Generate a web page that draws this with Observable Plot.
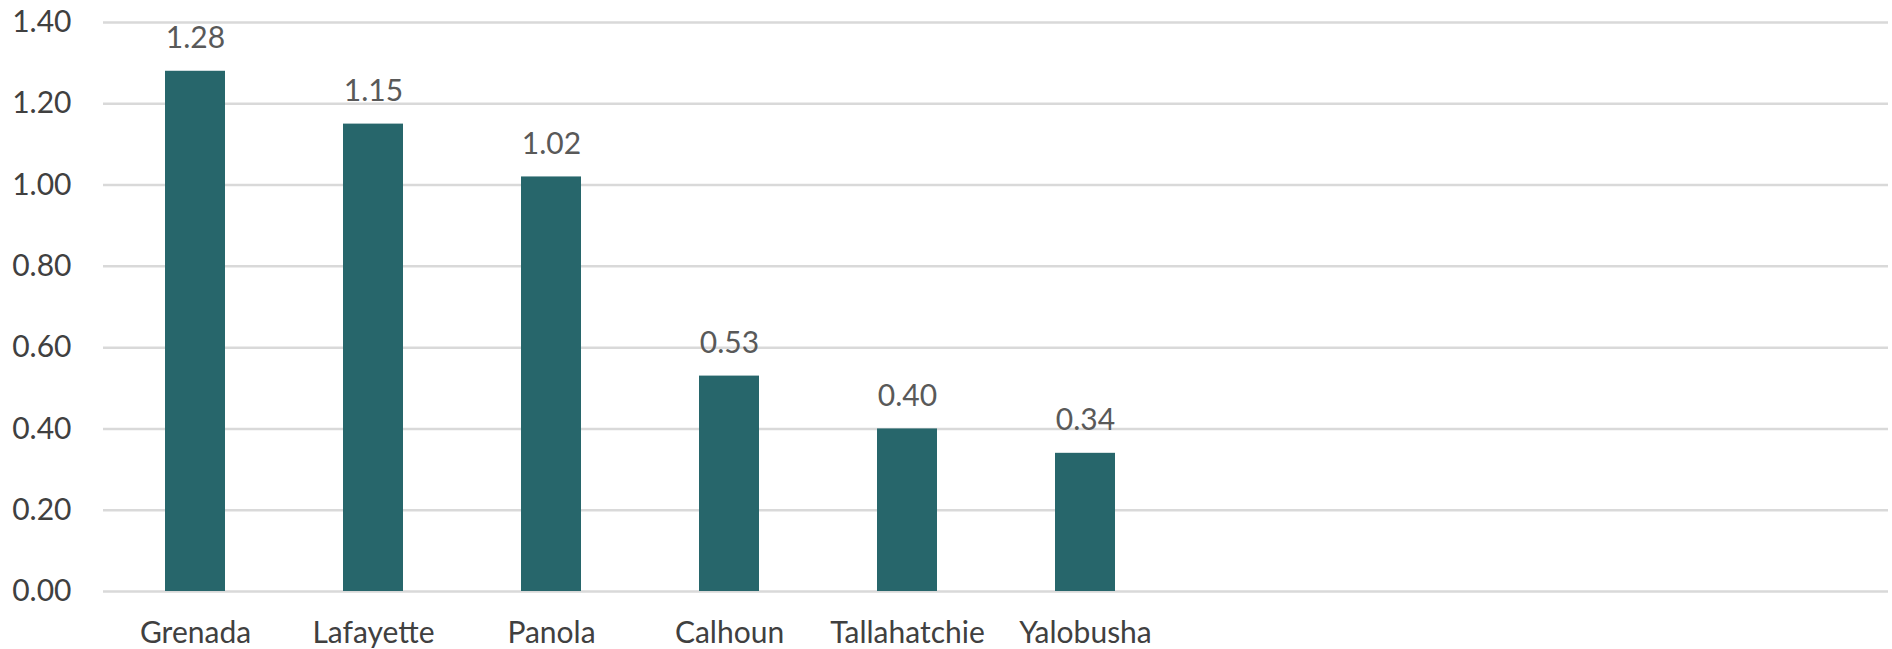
<!DOCTYPE html>
<html>
<head>
<meta charset="utf-8">
<script src="https://cdn.jsdelivr.net/npm/d3@7"></script>
<script src="https://cdn.jsdelivr.net/npm/@observablehq/plot@0.6"></script>
<style>
  html, body { margin: 0; padding: 0; background: #ffffff; }
</style>
</head>
<body>
<div id="chart"></div>
<script>
const counties = ["Grenada", "Lafayette", "Panola", "Calhoun", "Tallahatchie", "Yalobusha"];
const values = [1.28, 1.15, 1.02, 0.53, 0.40, 0.34];
const emptySlots = ["slot7", "slot8", "slot9", "slot10"];
const yTicks = [0, 0.2, 0.4, 0.6, 0.8, 1.0, 1.2, 1.4];

const data = counties.map((c, i) => ({ county: c, value: values[i] }));
const xDomain = counties.concat(emptySlots);

const chart = Plot.plot({
  width: 1892,
  height: 649,
  marginTop: 22,
  marginBottom: 58,
  marginLeft: 103,
  marginRight: 4,
  style: { fontFamily: "Lato, 'Open Sans', sans-serif", background: "#ffffff" },
  x: { domain: xDomain, paddingInner: 0.664, paddingOuter: 0.332, label: null },
  y: { domain: [0, 1.4], label: null },
  marks: [
    Plot.gridY(yTicks, { stroke: "#d9d9d9", strokeOpacity: 1, strokeWidth: 2.5 }),
    Plot.barY(data, { x: "county", y: "value", fill: "#27666b" }),
    Plot.text(data, {
      x: "county", y: "value", text: d => d.value.toFixed(2),
      dy: -33, fill: "#595959", fontSize: 30
    }),
    Plot.axisY(yTicks, {
      tickSize: 0, tickPadding: 32, tickFormat: d3.format(".2f"),
      fontSize: 30, fill: "#404040", label: null
    }),
    Plot.axisX({
      tickSize: 0, tickPadding: 30,
      tickFormat: d => counties.includes(d) ? d : "",
      fontSize: 30, fill: "#404040", label: null
    })
  ]
});
document.getElementById("chart").appendChild(chart);
</script>
</body>
</html>
